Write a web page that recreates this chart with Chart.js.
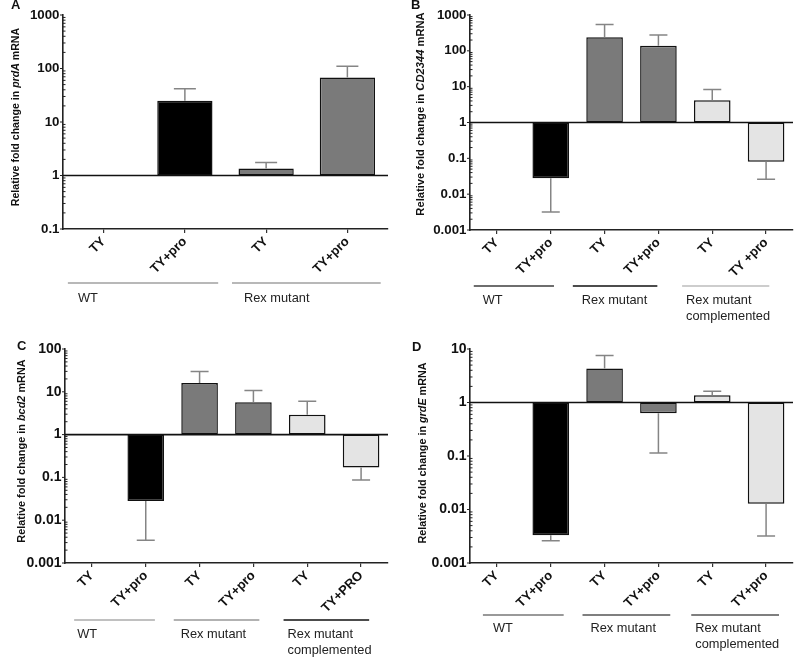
<!DOCTYPE html>
<html>
<head>
<meta charset="utf-8">
<script src="https://cdn.jsdelivr.net/npm/chart.js@4.4.0/dist/chart.umd.min.js"></script>
<style>
  body { margin: 0; background: #fff; }
  #wrap { position: relative; width: 800px; height: 661px; background: #fff; }
  #wrap canvas { position: absolute; }
</style>
</head>
<body>
<div id="wrap">
  <canvas id="panelA" width="400" height="330" style="left:0;top:0"></canvas>
  <canvas id="panelB" width="400" height="330" style="left:400px;top:0"></canvas>
  <canvas id="panelC" width="400" height="331" style="left:0;top:330px"></canvas>
  <canvas id="panelD" width="400" height="331" style="left:400px;top:330px"></canvas>
</div>
<script>
// categories
const catsA = ['TY', 'TY+pro', 'TY', 'TY+pro'];
const catsB = ['TY', 'TY+pro', 'TY', 'TY+pro', 'TY', 'TY +pro'];
const catsC = ['TY', 'TY+pro', 'TY', 'TY+pro', 'TY', 'TY+PRO'];
const catsD = ['TY', 'TY+pro', 'TY', 'TY+pro', 'TY', 'TY+pro'];

// strains under the categories
const groupsA = ['WT', 'Rex mutant'];
const groupsBCD = ['WT', 'Rex mutant', 'Rex mutant\ncomplemented'];
const groupOfA = [0, 0, 1, 1];
const groupOfBCD = [0, 0, 1, 1, 2, 2];

// relative fold change (bar end) and end of the error bar
const prdA = [1, 25, 1.35, 68];
const prdAErr = [null, 42, 1.75, 110];
const cd2344 = [1, 0.028, 240, 138, 4.2, 0.08];
const cd2344Err = [null, 0.0032, 540, 275, 8.3, 0.026];
const bcd2 = [1, 0.028, 16, 5.7, 2.9, 0.17];
const bcd2Err = [null, 0.0034, 30, 10.7, 6.0, 0.087];
const grdE = [1, 0.0033, 4.3, 0.63, 1.37, 0.0128];
const grdEErr = [null, 0.0026, 7.6, 0.114, 1.63, 0.0032];

// y ticks (log axis)
const yTicksA = [0.1, 1, 10, 100, 1000];
const yTicksB = [0.001, 0.01, 0.1, 1, 10, 100, 1000];
const yTicksC = [0.001, 0.01, 0.1, 1, 10, 100];
const yTicksD = [0.001, 0.01, 0.1, 1, 10];

const FONT = "'Liberation Sans', Arial, Helvetica, sans-serif";
const groupColors = ['#000000', '#7a7a7a', '#e4e4e4'];

function fmtTick(v) {
    const e = Math.round(Math.log10(v));
    return String(10 ** e);
}

// everything Chart.js doesn't draw on its own: line at 1, error bars, minor ticks, titles, strain labels
const extras = {
    id: 'extras',
    afterDatasetsDraw(chart) {
        const p = chart.options.plugins.extras;
        const ctx = chart.ctx;
        const area = chart.chartArea;
        const y = chart.scales.y;
        const meta = chart.getDatasetMeta(0);

        // error bars
        ctx.save();
        ctx.strokeStyle = '#858585';
        ctx.lineWidth = 1.5;
        p.err.forEach((e, i) => {
            if (e == null) return;
            const x = meta.data[i].x;
            const y0 = y.getPixelForValue(p.values[i]);
            const y1 = y.getPixelForValue(e);
            ctx.beginPath();
            ctx.moveTo(x, y0);
            ctx.lineTo(x, y1);
            ctx.moveTo(x - p.cap, y1);
            ctx.lineTo(x + p.cap, y1);
            ctx.stroke();
        });
        ctx.restore();

        // baseline at 1
        const y1 = y.getPixelForValue(1);
        ctx.save();
        ctx.strokeStyle = '#111';
        ctx.lineWidth = 1.6;
        ctx.beginPath();
        ctx.moveTo(area.left, y1);
        ctx.lineTo(area.right, y1);
        ctx.stroke();
        ctx.restore();
    },
    afterDraw(chart) {
        const p = chart.options.plugins.extras;
        const ctx = chart.ctx;
        const area = chart.chartArea;
        const x = chart.scales.x;
        const y = chart.scales.y;

        // y axis tick marks
        ctx.save();
        ctx.strokeStyle = '#222';
        ctx.lineWidth = 1;
        const e0 = Math.round(Math.log10(y.min));
        const e1 = Math.round(Math.log10(y.max));
        for (let e = e0; e <= e1; e++) {
            const py = y.getPixelForValue(10 ** e);
            ctx.beginPath();
            ctx.moveTo(area.left - 3, py);
            ctx.lineTo(area.left, py);
            ctx.stroke();
            if (e === e1) continue;
            for (let m = 2; m <= 9; m++) {
                const my = y.getPixelForValue(m * 10 ** e);
                ctx.beginPath();
                ctx.moveTo(area.left, my);
                ctx.lineTo(area.left + 2.5, my);
                ctx.stroke();
            }
        }
        ctx.restore();

        // y axis title, gene name in italics
        const parts = [['bold', 'Relative fold change in '], ['italic bold', p.gene], ['bold', ' mRNA']];
        const fs = p.titleSize + 'px ' + FONT;
        ctx.save();
        ctx.fillStyle = '#111';
        ctx.textBaseline = 'middle';
        ctx.translate(p.titleX, p.titleY);
        ctx.rotate(-Math.PI / 2);
        let total = 0;
        parts.forEach(([st, t]) => { ctx.font = st + ' ' + fs; total += ctx.measureText(t).width; });
        let tx = -total / 2;
        parts.forEach(([st, t]) => {
            ctx.font = st + ' ' + fs;
            ctx.fillText(t, tx, 0);
            tx += ctx.measureText(t).width;
        });
        ctx.restore();

        // panel letter
        ctx.save();
        ctx.fillStyle = '#111';
        ctx.font = 'bold 13px ' + FONT;
        ctx.textBaseline = 'middle';
        ctx.fillText(p.letter, p.letterX, p.letterY);
        ctx.restore();

        // strain lines and labels
        ctx.save();
        ctx.textBaseline = 'middle';
        ctx.font = '12.8px ' + FONT;
        ctx.fillStyle = '#222';
        const w = x.getPixelForValue(1) - x.getPixelForValue(0);
        p.groups.forEach((g, gi) => {
            const idx = p.groupOf.map((v, i) => v === gi ? i : -1).filter(i => i >= 0);
            const xs = x.getPixelForValue(idx[0]) + p.lineFrom[gi] * w;
            const xe = x.getPixelForValue(idx[idx.length - 1]) + p.lineTo[gi] * w;
            ctx.strokeStyle = p.lineColors[gi];
            ctx.lineWidth = p.lineWidths[gi];
            ctx.beginPath();
            ctx.moveTo(xs, p.lineY);
            ctx.lineTo(xe, p.lineY);
            ctx.stroke();
            g.split('\n').forEach((t, li) => {
                ctx.fillText(t, xs + p.textDx[gi], p.textY + li * 16);
            });
        });
        ctx.restore();
    }
};

function makePanel(id, p) {
    const canvas = document.getElementById(id);
    const H = canvas.height, W = canvas.width;
    return new Chart(canvas.getContext('2d'), {
        type: 'bar',
        data: {
            labels: p.labels,
            datasets: [{
                data: p.values.map(v => [1, v]),
                backgroundColor: p.groupOf.map(g => groupColors[g]),
                borderColor: '#111',
                borderWidth: 1.5,
                borderSkipped: false,
                barPercentage: 0.68,
                categoryPercentage: 1
            }]
        },
        options: {
            responsive: false,
            animation: false,
            layout: { padding: { left: 0, top: p.area.top, right: W - p.area.right, bottom: 0 } },
            plugins: {
                legend: { display: false },
                tooltip: { enabled: false },
                extras: p
            },
            scales: {
                x: {
                    grid: { display: true, drawOnChartArea: false, offset: false, tickLength: 4, color: '#333', lineWidth: 1.2 },
                    border: { display: true, color: '#222', width: 1.6 },
                    ticks: {
                        minRotation: 45, maxRotation: 45, autoSkip: false, padding: 1,
                        color: '#111', font: { family: FONT, size: 13, weight: 'bold' }
                    },
                    afterFit: s => { s.height = H - p.area.bottom; }
                },
                y: {
                    type: 'logarithmic',
                    min: p.ticks[0],
                    max: p.ticks[p.ticks.length - 1],
                    grid: { display: false, drawTicks: false },
                    border: { display: true, color: '#222', width: 1.6 },
                    afterBuildTicks: s => { s.ticks = p.ticks.map(v => ({ value: v })); },
                    ticks: {
                        autoSkip: false, padding: 3.5,
                        color: '#111', font: { family: FONT, size: p.tickSize, weight: 'bold' },
                        callback: v => fmtTick(v)
                    },
                    afterFit: s => { s.width = p.area.left; }
                }
            }
        },
        plugins: [extras]
    });
}

makePanel('panelA', {
    labels: catsA, values: prdA, err: prdAErr, ticks: yTicksA,
    groups: groupsA, groupOf: groupOfA, gene: 'prdA', letter: 'A',
    area: { left: 63, top: 15, right: 388, bottom: 229 },
    tickSize: 13.3, titleSize: 10.6,
    cap: 11, titleX: 16, titleY: 117, letterX: 11, letterY: 5,
    lineY: 283, textY: 298,
    lineFrom: [-0.44, -0.42], lineTo: [0.41, 0.41], textDx: [10, 12],
    lineColors: ['#a0a0a0', '#a0a0a0'], lineWidths: [1.5, 1.5]
});

makePanel('panelB', {
    labels: catsB, values: cd2344, err: cd2344Err, ticks: yTicksB,
    groups: groupsBCD, groupOf: groupOfBCD, gene: 'CD2344', letter: 'B',
    area: { left: 70, top: 15, right: 393, bottom: 230 },
    tickSize: 13.3, titleSize: 11.2,
    cap: 9, titleX: 21, titleY: 114, letterX: 11, letterY: 5,
    lineY: 286, textY: 300,
    lineFrom: [-0.43, -0.59, -0.56], lineTo: [0.06, -0.02, 0.06], textDx: [9, 9, 4],
    lineColors: ['#6e6e6e', '#111', '#bdbdbd'], lineWidths: [2.2, 1.5, 1.5]
});

makePanel('panelC', {
    labels: catsC, values: bcd2, err: bcd2Err, ticks: yTicksC,
    groups: groupsBCD, groupOf: groupOfBCD, gene: 'bcd2', letter: 'C',
    area: { left: 65, top: 19, right: 388, bottom: 233 },
    tickSize: 14, titleSize: 10.9,
    cap: 9, titleX: 22, titleY: 121, letterX: 17, letterY: 16,
    lineY: 290, textY: 304,
    lineFrom: [-0.33, -0.48, -0.44], lineTo: [0.17, 0.11, 0.15], textDx: [3, 7, 4],
    lineColors: ['#ababab', '#999', '#111'], lineWidths: [1.3, 1.3, 1.5]
});

makePanel('panelD', {
    labels: catsD, values: grdE, err: grdEErr, ticks: yTicksD,
    groups: groupsBCD, groupOf: groupOfBCD, gene: 'grdE', letter: 'D',
    area: { left: 70, top: 19, right: 393, bottom: 233 },
    tickSize: 14, titleSize: 10.8,
    cap: 9, titleX: 23, titleY: 123, letterX: 12, letterY: 17,
    lineY: 285, textY: 298,
    lineFrom: [-0.26, -0.41, -0.39], lineTo: [0.24, 0.22, 0.24], textDx: [10, 8, 4],
    lineColors: ['#777', '#555', '#555'], lineWidths: [1.5, 1.5, 1.5]
});
</script>
</body>
</html>
